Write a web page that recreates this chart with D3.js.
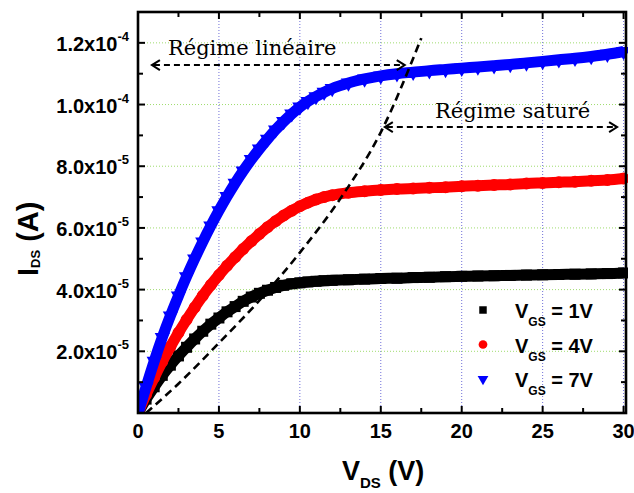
<!DOCTYPE html>
<html><head><meta charset="utf-8">
<script src="https://cdn.jsdelivr.net/npm/d3@7/dist/d3.min.js"></script>
<style>body{margin:0;background:#fff}svg{display:block}</style>
</head><body>
<svg id="c" width="634" height="493"></svg>
<script>
// ---- data (currents in units of 1e-5 A) ----
const UNIT = 1e-5;
const vds = [0,0.5,1,1.5,2,2.5,3,3.5,4,4.5,5,5.5,6,6.5,7,7.5,8,8.5,9,9.5,10,10.5,11,11.5,12,13,14,15,16,17,18,19,20,21,22,23,24,25,26,27,28,29,30];
const idsVgs1 = [0,0.45,0.85,1.22,1.55,1.85,2.13,2.4,2.65,2.88,3.08,3.28,3.45,3.62,3.76,3.88,3.98,4.07,4.14,4.19,4.22,4.25,4.27,4.29,4.3,4.32,4.34,4.36,4.37,4.39,4.4,4.42,4.43,4.44,4.45,4.46,4.47,4.48,4.49,4.5,4.51,4.52,4.54];
const idsVgs4 = [0,0.6,1.15,1.67,2.15,2.6,3.02,3.42,3.8,4.15,4.47,4.77,5.05,5.32,5.57,5.8,6.02,6.22,6.4,6.56,6.7,6.82,6.92,7.0,7.06,7.14,7.19,7.23,7.26,7.28,7.3,7.32,7.35,7.37,7.39,7.41,7.44,7.46,7.48,7.5,7.53,7.55,7.6];
const idsVgs7 = [0,0.85,1.68,2.45,3.15,3.8,4.42,5.0,5.55,6.07,6.56,7.02,7.45,7.85,8.22,8.56,8.88,9.18,9.45,9.7,9.92,10.1,10.26,10.4,10.52,10.7,10.83,10.93,11.0,11.05,11.1,11.14,11.18,11.22,11.26,11.3,11.35,11.4,11.45,11.5,11.56,11.63,11.72];
const seriesNames = ["1V","4V","7V"];
// dashed boundary curve (linear / saturated)
const boundV = [0.5,2.5,5,7.5,10,12.5,15,17.5];
const boundI = [0,0.95,2.27,3.65,5.2,6.95,9.1,12.15];
// ticks
const xTicks = [0,5,10,15,20,25,30];
const xMinor = [2.5,7.5,12.5,17.5,22.5,27.5];
const yTicks = [2,4,6,8,10,12];
const yTickMant = ["2.0","4.0","6.0","8.0","1.0","1.2"];
const yTickExp = ["-5","-5","-5","-5","-4","-4"];
const yMinor = [1,3,5,7,9,11];
const annoLin = "Régime linéaire";
const annoSat = "Régime saturé";

const svg = d3.select("#c");
const L=138,R=626,T=12,B=413;
const x = d3.scaleLinear().domain([0,30.15]).range([L,R]);
const y = d3.scaleLinear().domain([0,13]).range([B,T]);

// grid
const g = svg.append("g");
g.selectAll(".vg").data(xTicks.filter(d=>d>0)).join("line")
  .attr("x1",d=>x(d)).attr("x2",d=>x(d)).attr("y1",T).attr("y2",B)
  .attr("stroke","#6f6fd8").attr("stroke-width",1).attr("stroke-dasharray","1,2");
g.selectAll(".hg").data(yTicks).join("line")
  .attr("y1",d=>y(d)).attr("y2",d=>y(d)).attr("x1",L).attr("x2",R)
  .attr("stroke","#9fdc6e").attr("stroke-width",1).attr("stroke-dasharray","1,2");

// clip
svg.append("clipPath").attr("id","pc").append("rect").attr("x",L).attr("y",T).attr("width",R-L+2).attr("height",B-T);

const series = [
  {vals:idsVgs1,color:"#000000",sym:d3.symbolSquare,size:121,rot:0},
  {vals:idsVgs4,color:"#ff0000",sym:d3.symbolCircle,size:113,rot:0},
  {vals:idsVgs7,color:"#0000ff",sym:d3.symbolTriangle,size:100,rot:180}
];
const plot = svg.append("g").attr("clip-path","url(#pc)");
const line = d3.line().x(d=>x(d[0])).y(d=>y(d[1])).curve(d3.curveMonotoneX);
series.forEach(s=>{
  const pts = vds.map((v,i)=>[v,s.vals[i]]);
  plot.append("path").attr("d",line(pts)).attr("fill","none").attr("stroke",s.color).attr("stroke-width",11);
  plot.selectAll(null).data(pts).join("path")
    .attr("d",d3.symbol(s.sym,s.size))
    .attr("transform",d=>`translate(${x(d[0])},${y(d[1])}) rotate(${s.rot})`)
    .attr("fill",s.color);
});

// dashed boundary
const bl = d3.line().x(d=>x(d[0])).y(d=>y(d[1])).curve(d3.curveMonotoneX);
plot.append("path").attr("d",bl(boundV.map((v,i)=>[v,boundI[i]])))
  .attr("fill","none").attr("stroke","#000").attr("stroke-width",2.6).attr("stroke-dasharray","8,5");

// frame and ticks
svg.append("rect").attr("x",L).attr("y",T).attr("width",R-L).attr("height",B-T)
  .attr("fill","none").attr("stroke","#000").attr("stroke-width",2.6);
const tk = svg.append("g").attr("stroke","#000").attr("stroke-width",2);
xTicks.concat(xMinor).forEach(v=>{
  const len = xTicks.includes(v)?7:5;
  tk.append("line").attr("x1",x(v)).attr("x2",x(v)).attr("y1",B).attr("y2",B-len);
  tk.append("line").attr("x1",x(v)).attr("x2",x(v)).attr("y1",T).attr("y2",T+len);
});
yTicks.concat(yMinor).forEach(v=>{
  const len = yTicks.includes(v)?7:5;
  tk.append("line").attr("y1",y(v)).attr("y2",y(v)).attr("x1",L).attr("x2",L+len);
  tk.append("line").attr("y1",y(v)).attr("y2",y(v)).attr("x1",R).attr("x2",R-len);
});

const font = "'Liberation Sans', Arial, sans-serif";
// x tick labels
svg.selectAll(".xl").data(xTicks).join("text")
  .attr("x",d=>x(d)).attr("y",438).attr("text-anchor","middle")
  .attr("font-family",font).attr("font-weight","bold").attr("font-size",20).text(d=>d);
// y tick labels
yTicks.forEach((v,i)=>{
  const t = svg.append("text").attr("x",129).attr("y",y(v)+8).attr("text-anchor","end")
    .attr("font-family",font).attr("font-weight","bold").attr("font-size",20);
  t.append("tspan").text(yTickMant[i]+"x10");
  t.append("tspan").attr("dy",-10).attr("font-size",13).text(yTickExp[i]);
});

// axis titles
const xt = svg.append("text").attr("x",342).attr("y",480)
  .attr("font-family",font).attr("font-weight","bold").attr("font-size",27);
xt.append("tspan").text("V");
xt.append("tspan").attr("dy",8).attr("font-size",15).text("DS");
xt.append("tspan").attr("dy",-8).text(" (V)");

const yt = svg.append("text").attr("transform","translate(38,276) rotate(-90)")
  .attr("font-family",font).attr("font-weight","bold").attr("font-size",29);
yt.append("tspan").text("I");
yt.append("tspan").attr("dy",2).attr("font-size",13).text("DS");
yt.append("tspan").attr("dy",-2).text(" (A)");

// annotations
const sfont = "'DejaVu Serif', serif";
svg.append("text").attr("x",x(1.85)).attr("y",y(11.6)).attr("font-family",sfont).attr("font-size",21).text(annoLin);
svg.append("text").attr("x",x(18.35)).attr("y",y(9.56)).attr("font-family",sfont).attr("font-size",21).text(annoSat);
function arrow(v1,v2,iv){
  const yy=y(iv), x1=x(v1), x2=x(v2);
  const a = svg.append("g").attr("stroke","#000").attr("stroke-width",2).attr("fill","none");
  a.append("line").attr("x1",x1+2).attr("x2",x2-2).attr("y1",yy).attr("y2",yy).attr("stroke-dasharray","6,4");
  a.append("path").attr("d",`M${x1+8},${yy-5}L${x1},${yy}L${x1+8},${yy+5}`);
  a.append("path").attr("d",`M${x2-8},${yy-5}L${x2},${yy}L${x2-8},${yy+5}`);
}
arrow(0.86,16.48,11.28);
arrow(15.25,29.6,9.27);

// legend
const lg = svg.append("g");
series.forEach((s,i)=>{
  const cy = 310 + i*34.5;
  lg.append("path").attr("d",d3.symbol(s.sym,i===1?60:(i===0?56:50))).attr("transform",`translate(483,${cy}) rotate(${s.rot})`).attr("fill",s.color);
  const t = lg.append("text").attr("x",515).attr("y",cy+8).attr("font-family",font).attr("font-weight","bold").attr("font-size",20);
  t.append("tspan").text("V");
  t.append("tspan").attr("dy",8).attr("font-size",12).text("GS");
  t.append("tspan").attr("dy",-8).text(" = "+seriesNames[i]);
});
</script>
</body></html>
